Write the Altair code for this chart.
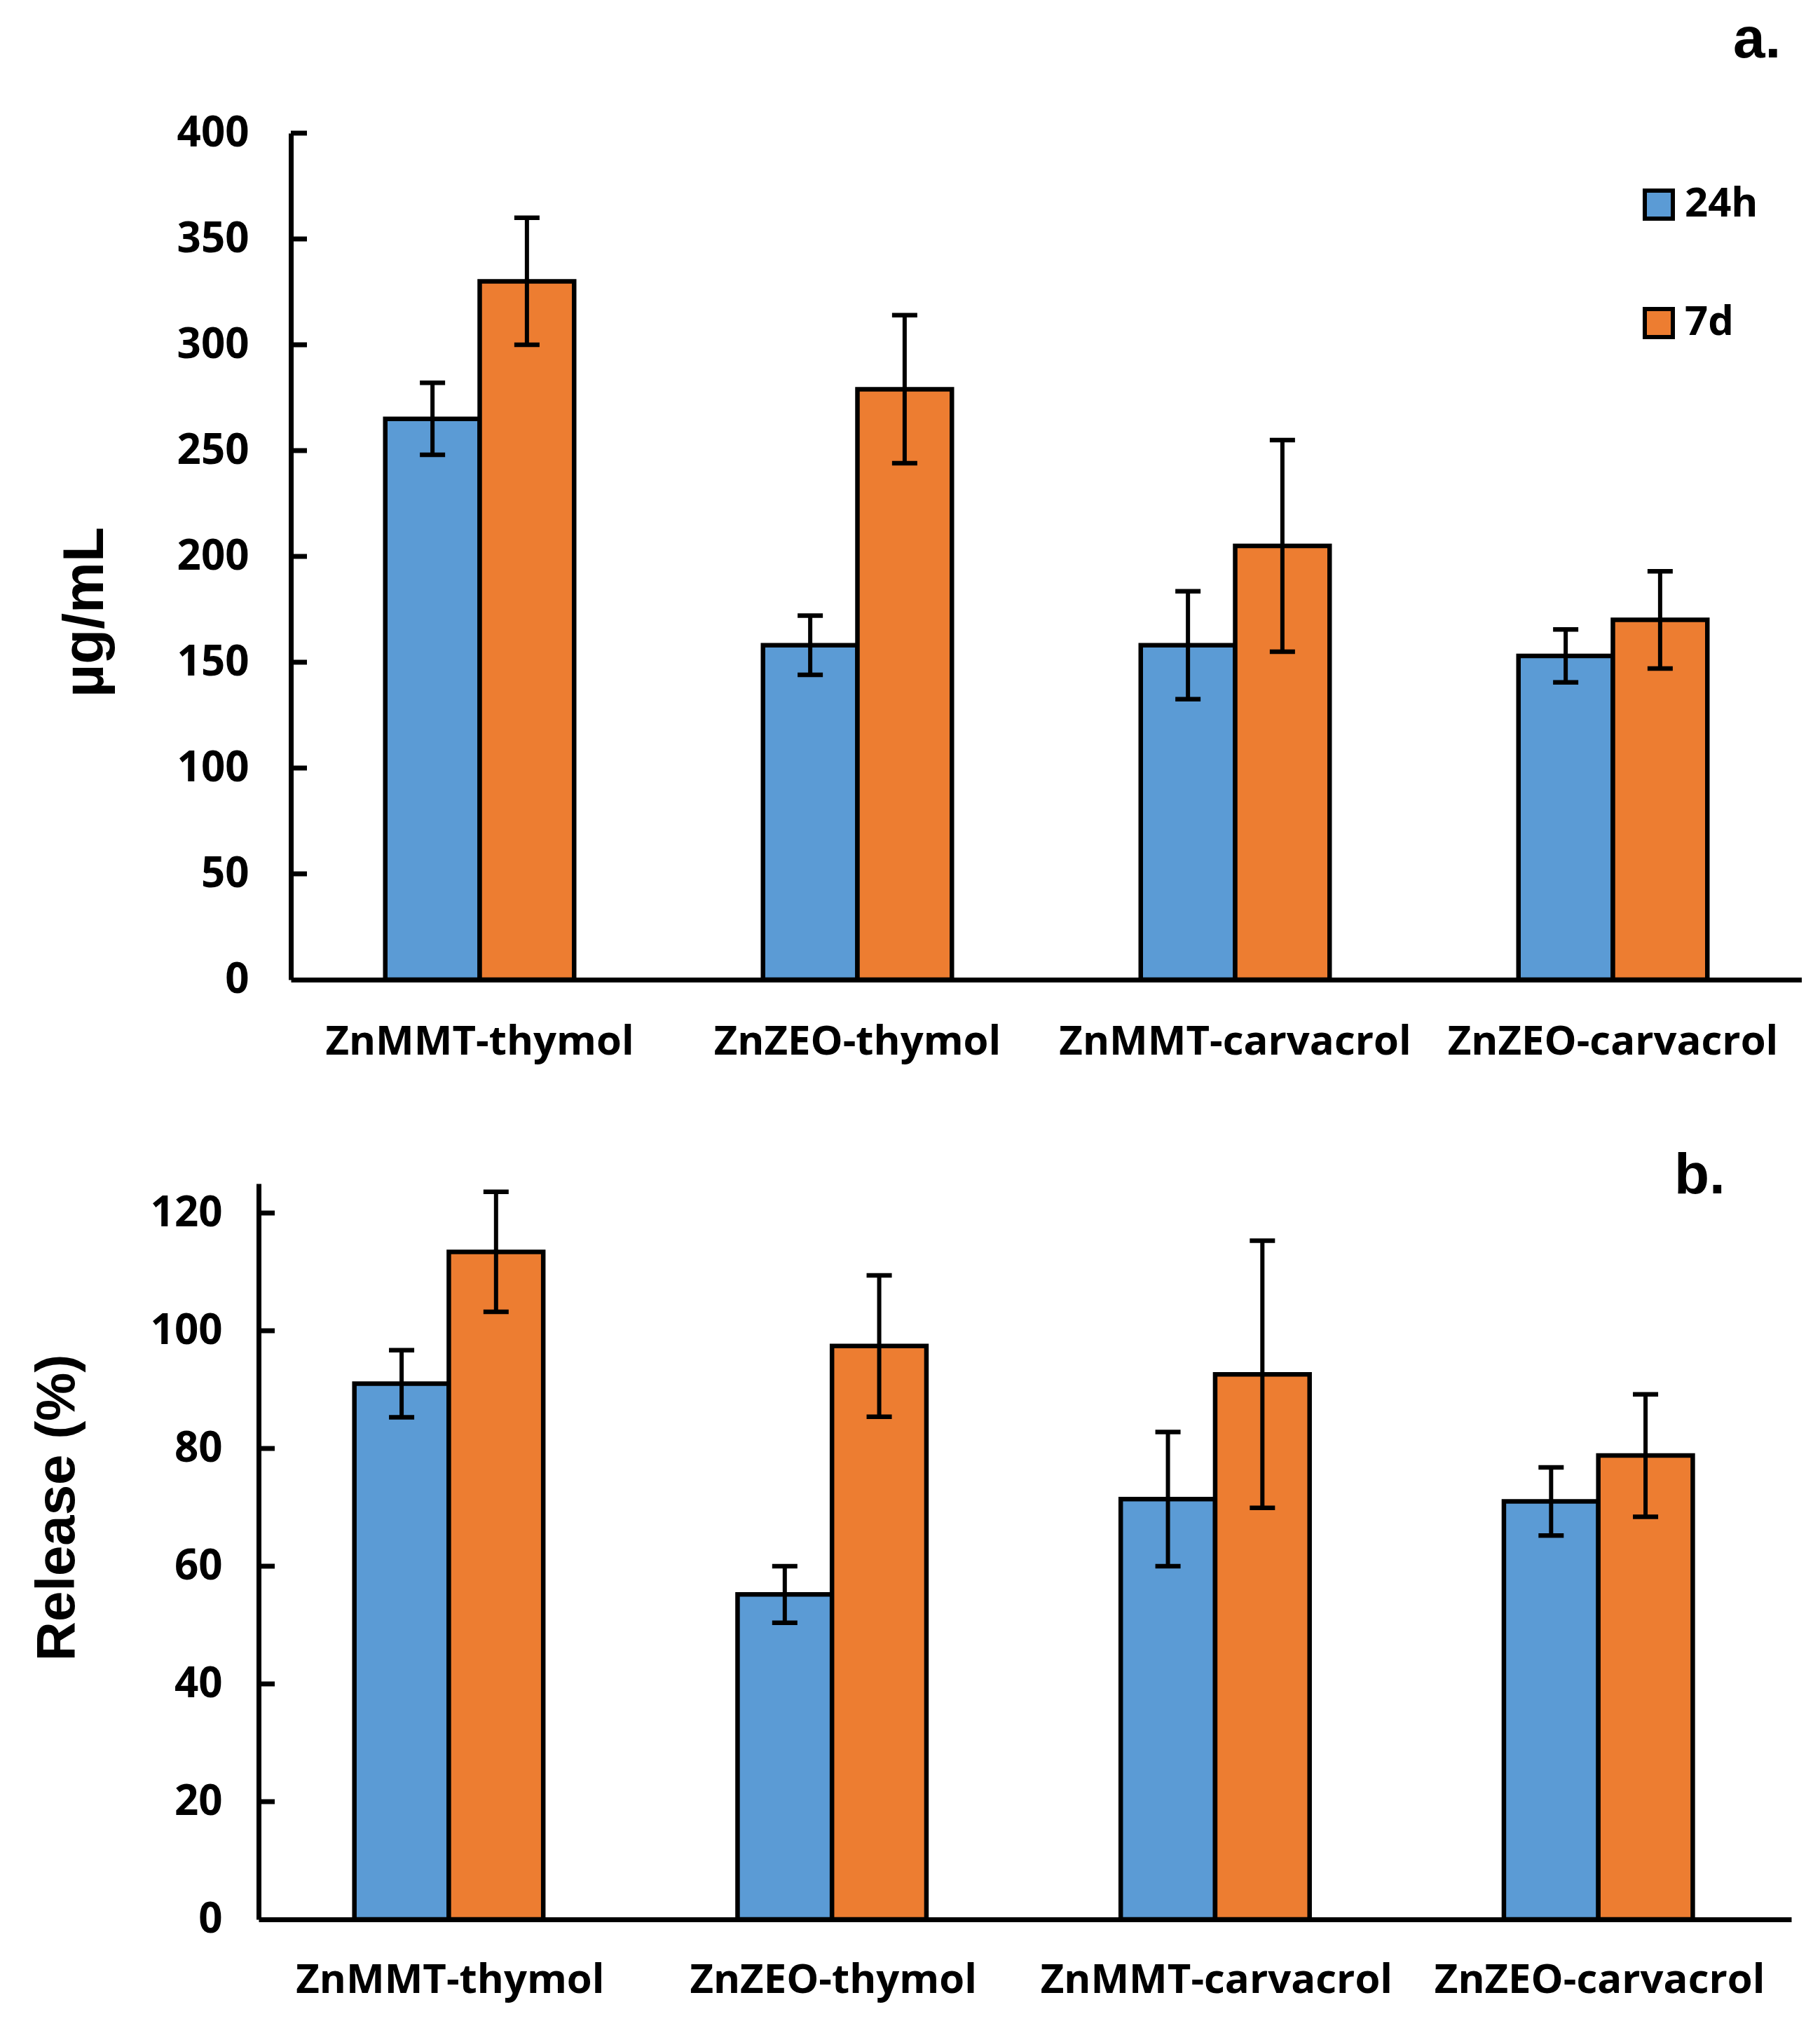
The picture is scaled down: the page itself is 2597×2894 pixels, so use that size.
import altair as alt
import pandas as pd

categories = ["ZnMMT-thymol", "ZnZEO-thymol", "ZnMMT-carvacrol", "ZnZEO-carvacrol"]
series = ["24h", "7d"]
colors = ["#5B9BD5", "#ED7D31"]

# panel a: concentration (µg/mL)
conc_24h = [265, 158, 158, 153]
conc_24h_err = [17, 14, 25.5, 12.5]
conc_7d = [330, 279, 205, 170]
conc_7d_err = [30, 35, 50, 23]

# panel b: release (%)
rel_24h = [91, 55.2, 71.4, 71]
rel_24h_err = [5.7, 4.8, 11.4, 5.8]
rel_7d = [113.4, 97.4, 92.6, 78.8]
rel_7d_err = [10.2, 12, 22.7, 10.4]

ticks_a = [50, 100, 150, 200, 250, 300, 350, 400]
ticks_b = [20, 40, 60, 80, 100, 120]
panel_labels = ["a.", "b."]

FONT = "Open Sans"
TITLE_FONT = "Liberation Sans"
LABEL_FONT = "Liberation Sans"


def make_df(v1, e1, v2, e2):
    rows = []
    for i, c in enumerate(categories):
        rows.append({"cat": c, "series": series[0], "val": v1[i], "lo": v1[i] - e1[i], "hi": v1[i] + e1[i]})
        rows.append({"cat": c, "series": series[1], "val": v2[i], "lo": v2[i] - e2[i], "hi": v2[i] + e2[i]})
    return pd.DataFrame(rows)


def panel(df, ticks, ymax, title, title_size, title_x, title_y, width, height, x0, label, lab_x, lab_y,
          label_pad, xlabel_pad, show_legend, tick_values):
    xscale = alt.Scale(domain=categories, range=[x0, width], paddingInner=0.5, paddingOuter=0.25)
    yscale = alt.Scale(domain=[0, ymax], nice=False, zero=True)
    xoff = alt.XOffset("series:N", scale=alt.Scale(domain=series, paddingInner=0, paddingOuter=0))
    if show_legend:
        legend = alt.Legend(
            title=None, orient="none", legendX=1969, legendY=73,
            symbolType="square", symbolSize=1600, symbolStrokeColor="black",
            symbolStrokeWidth=6, symbolOpacity=1, labelFont=FONT, labelFontSize=58,
            labelFontWeight="bold", labelColor="black", labelOffset=8,
            rowPadding=105, padding=0, direction="vertical",
        )
    else:
        legend = None
    color = alt.Color("series:N", scale=alt.Scale(domain=series, range=colors), legend=legend)

    base = alt.Chart(df)
    bars = base.mark_bar(stroke="black", strokeWidth=6.5).encode(
        x=alt.X("cat:N", scale=xscale, sort=categories, title=None,
                axis=alt.Axis(labelAngle=0, ticks=False, domainWidth=7, domainColor="black",
                              labelFont=FONT, labelFontSize=58, labelFontWeight="bold",
                              labelColor="black", labelPadding=xlabel_pad, labelBaseline="top",
                              labelLimit=0, labelOverlap=False)),
        xOffset=xoff,
        y=alt.Y("val:Q", scale=yscale, title=title,
                axis=alt.Axis(values=tick_values, ticks=False, domainWidth=7, domainColor="black",
                              offset=-x0, labelFont=FONT, labelFontSize=60, labelFontWeight="bold",
                              labelColor="black", labelPadding=label_pad, grid=False,
                              titleFont=TITLE_FONT, titleFontSize=title_size, titleFontWeight="bold",
                              titleColor="black", titleAngle=270, titleAlign="center",
                              titleBaseline="middle", titleX=title_x, titleY=title_y)),
        color=color,
    )
    err = base.mark_rule(color="black", strokeWidth=6).encode(
        x=alt.X("cat:N", scale=xscale, sort=categories),
        xOffset=xoff,
        y="lo:Q",
        y2="hi:Q",
    )
    caps_lo = base.mark_tick(color="black", thickness=6.5, size=36, opacity=1).encode(
        x=alt.X("cat:N", scale=xscale, sort=categories),
        xOffset=xoff,
        y="lo:Q",
    )
    caps_hi = base.mark_tick(color="black", thickness=6.5, size=36, opacity=1).encode(
        x=alt.X("cat:N", scale=xscale, sort=categories),
        xOffset=xoff,
        y="hi:Q",
    )
    tick_rules = alt.Chart(pd.DataFrame({"t": ticks})).mark_rule(color="black", strokeWidth=7).encode(
        y=alt.Y("t:Q", scale=yscale),
        x=alt.value(x0),
        x2=alt.value(x0 + 23),
    )
    lab = alt.Chart(pd.DataFrame({"t": [label]})).mark_text(
        font=LABEL_FONT, fontSize=82, fontWeight="bold", color="black", align="left", baseline="alphabetic"
    ).encode(text="t:N", x=alt.value(lab_x), y=alt.value(lab_y))

    return alt.layer(bars, err, caps_lo, caps_hi, tick_rules, lab).properties(width=width, height=height)


df_a = make_df(conc_24h, conc_24h_err, conc_7d, conc_7d_err)
df_b = make_df(rel_24h, rel_24h_err, rel_7d, rel_7d_err)

pa = panel(df_a, ticks_a, 400, "µg/mL", 82, -294, 683, 2202, 1208, 46, panel_labels[0], 2104, -108,
           60, 60, True, [0, 50, 100, 150, 200, 250, 300, 350, 400])
pb = panel(df_b, ticks_b, 125, "Release (%)", 78, -287, 462, 2187, 1050, 0, panel_labels[1], 2020, 14,
           52, 58, False, [0, 20, 40, 60, 80, 100, 120])

chart = alt.vconcat(pa, pb, spacing=121).resolve_legend(color="independent").properties(
    padding={"left": 35, "top": 8, "right": 0, "bottom": 10}, background="white"
).configure_view(stroke=None).configure_concat(spacing=121)

chart.save("out.html", embed_options={"renderer": "svg", "actions": False})
